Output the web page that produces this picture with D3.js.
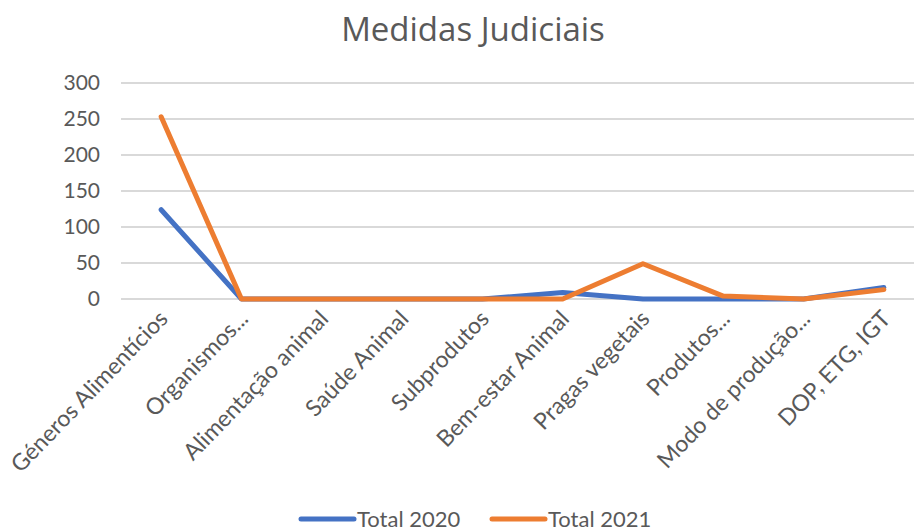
<!DOCTYPE html>
<html>
<head>
<meta charset="utf-8">
<script src="https://cdn.jsdelivr.net/npm/d3@7"></script>
<style>
  body { margin: 0; background: #fff; }
  text { font-family: Lato, "Open Sans", sans-serif; fill: #595959; }
</style>
</head>
<body>
<div class="container"></div>
<script>
// line chart: medidas judiciais 2020 vs 2021

const categories = [
  "Géneros Alimentícios", "Organismos...", "Alimentação animal", "Saúde Animal",
  "Subprodutos", "Bem-estar Animal", "Pragas vegetais", "Produtos...",
  "Modo de produção...", "DOP, ETG, IGT"
];
const total2020 = [124, 0, 0, 0, 0, 9, 0, 0, 0, 16];
const total2021 = [253, 0, 0, 0, 0, 0, 49, 4, 0, 13];
const yTicks = [0, 50, 100, 150, 200, 250, 300];

const w = 914, h = 532;
const plotLeft = 121, bandW = 80.3;
const plotTop = 83, plotBottom = 299;

const svg = d3.select(".container")
  .append("svg")
  .attr("width", w)
  .attr("height", h);

const xScale = d3.scaleBand()
  .domain(categories)
  .range([plotLeft, plotLeft + bandW * categories.length]);

const yScale = d3.scaleLinear()
  .domain([0, 300])
  .range([plotBottom, plotTop]);

// title
svg.append("text")
  .attr("x", 473)
  .attr("y", 41)
  .attr("text-anchor", "middle")
  .attr("font-size", "33px")
  .style("font-family", "'Open Sans', sans-serif")
  .text("Medidas Judiciais");

// gridlines
svg.selectAll(".grid")
  .data(yTicks)
  .join("line")
  .attr("x1", plotLeft)
  .attr("x2", w)
  .attr("y1", (d) => yScale(d))
  .attr("y2", (d) => yScale(d))
  .attr("stroke", "#d9d9d9")
  .attr("stroke-width", 2);

// y labels
svg.selectAll(".ylab")
  .data(yTicks)
  .join("text")
  .attr("x", 100)
  .attr("y", (d) => yScale(d))
  .attr("dy", "0.35em")
  .attr("text-anchor", "end")
  .attr("font-size", "21px")
  .text((d) => d);

// x labels
svg.selectAll(".xlab")
  .data(categories)
  .join("text")
  .attr("text-anchor", "end")
  .attr("font-size", "23px")
  .attr("transform", (d) => {
    const x = xScale(d) + xScale.bandwidth() / 2 + 8;
    return `translate(${x},${320}) rotate(-46)`;
  })
  .text((d) => d);

const line = d3.line()
  .x((d, i) => xScale(categories[i]) + xScale.bandwidth() / 2)
  .y((d) => yScale(d));

const series = [
  { name: "Total 2020", values: total2020, color: "#4472C4" },
  { name: "Total 2021", values: total2021, color: "#ED7D31" }
];

svg.selectAll(".series")
  .data(series)
  .join("path")
  .attr("d", (d) => line(d.values))
  .attr("fill", "none")
  .attr("stroke", (d) => d.color)
  .attr("stroke-width", 5)
  .attr("stroke-linecap", "round")
  .attr("stroke-linejoin", "round");

// legend
const legX = [299, 490];
const leg = svg.selectAll(".leg")
  .data(series)
  .join("g")
  .attr("transform", (d, i) => `translate(${legX[i]},519)`);

leg.append("line")
  .attr("x1", 2).attr("x2", 55)
  .attr("stroke", (d) => d.color)
  .attr("stroke-width", 5)
  .attr("stroke-linecap", "round");

leg.append("text")
  .attr("x", 58)
  .attr("dy", "0.35em")
  .attr("font-size", "22px")
  .text((d) => d.name);
</script>
</body>
</html>
